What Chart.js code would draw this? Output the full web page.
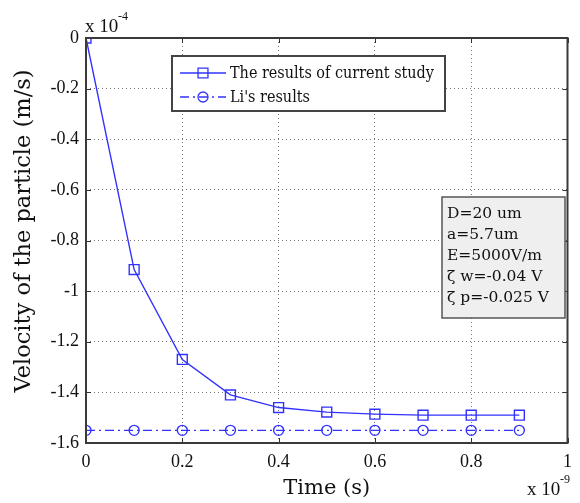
<!DOCTYPE html>
<html>
<head>
<meta charset="utf-8">
<script src="https://cdn.jsdelivr.net/npm/chart.js@4.4.0/dist/chart.umd.min.js"></script>
<style>
  html, body { margin: 0; padding: 0; background: #fff; }
  #wrap { width: 580px; height: 503px; }
</style>
</head>
<body>
<div id="wrap"><canvas id="myChart" width="580" height="503"></canvas></div>
<script>
// Daten (Zeit in 1e-9 s, Geschwindigkeit in 1e-4 m/s)
const times = [0, 0.1, 0.2, 0.3, 0.4, 0.5, 0.6, 0.7, 0.8, 0.9];
const currentStudy = [0, -0.915, -1.27, -1.41, -1.46, -1.478, -1.486, -1.49, -1.49, -1.49];
const liResults = [-1.55, -1.55, -1.55, -1.55, -1.55, -1.55, -1.55, -1.55, -1.55, -1.55];
const seriesNames = ['The results of current study', "Li's results"];
const infoLines = ['D=20 um', 'a=5.7um', 'E=5000V/m', '\u03B6 w=-0.04 V', '\u03B6 p=-0.025 V'];
const xTitle = 'Time (s)';
const yTitle = 'Velocity of the particle (m/s)';

const blue = 'rgb(50, 50, 255)';
const serif = '"Liberation Serif", "Times New Roman", serif';
const slab = '"DejaVu Serif", serif';
const slabCond = '"DejaVu Serif Condensed", "DejaVu Serif", serif';

function toPoints(ys) {
  return times.map((t, i) => ({ x: t, y: ys[i] }));
}

// Plugin: Rahmen, Ticks nach innen, Titel, Legende, Infobox
const matlabPlugin = {
  id: 'matlab',
  afterDraw(chart) {
    const ctx = chart.ctx;
    const a = chart.chartArea;
    const xs = chart.scales.x;
    const ys = chart.scales.y;
    ctx.save();

    // Ticks innen (alle vier Seiten)
    ctx.strokeStyle = '#333';
    ctx.lineWidth = 1;
    ctx.beginPath();
    xs.ticks.forEach(t => {
      const px = Math.round(xs.getPixelForValue(t.value)) + 0.5;
      ctx.moveTo(px, a.bottom); ctx.lineTo(px, a.bottom - 5);
      ctx.moveTo(px, a.top); ctx.lineTo(px, a.top + 5);
    });
    ys.ticks.forEach(t => {
      const py = Math.round(ys.getPixelForValue(t.value)) + 0.5;
      ctx.moveTo(a.left, py); ctx.lineTo(a.left + 5, py);
      ctx.moveTo(a.right, py); ctx.lineTo(a.right - 5, py);
    });
    ctx.stroke();

    // Rahmen
    ctx.strokeStyle = '#3a3a3a';
    ctx.lineWidth = 2;
    ctx.strokeRect(a.left, a.top, a.right - a.left, a.bottom - a.top);

    // Achsentitel
    ctx.fillStyle = '#111';
    ctx.font = '21px ' + slab;
    ctx.textAlign = 'center';
    ctx.textBaseline = 'middle';
    ctx.fillText(xTitle, (a.left + a.right) / 2, 489);
    ctx.save();
    ctx.translate(24, 231);
    ctx.rotate(-Math.PI / 2);
    ctx.font = '22.5px ' + slab;
    ctx.fillText(yTitle, 0, 0);
    ctx.restore();

    // Exponenten
    ctx.textAlign = 'left';
    ctx.textBaseline = 'alphabetic';
    ctx.font = '19px ' + serif;
    ctx.fillText('x 10', 85, 32);
    ctx.font = '12px ' + serif;
    ctx.fillText('-4', 118, 20);
    ctx.font = '19px ' + serif;
    ctx.fillText('x 10', 527, 495);
    ctx.font = '12px ' + serif;
    ctx.fillText('-9', 560, 483);

    // Legende
    ctx.fillStyle = '#fff';
    ctx.fillRect(172, 56, 273, 55);
    ctx.strokeStyle = '#444';
    ctx.lineWidth = 2;
    ctx.strokeRect(172, 56, 273, 55);
    const rows = [73, 97];
    chart.data.datasets.forEach((ds, i) => {
      const y = rows[i];
      ctx.strokeStyle = ds.borderColor;
      ctx.lineWidth = 1.3;
      ctx.setLineDash(ds.borderDash || []);
      ctx.beginPath();
      ctx.moveTo(180, y); ctx.lineTo(226, y);
      ctx.stroke();
      ctx.setLineDash([]);
      ctx.fillStyle = 'rgba(0,0,0,0)';
      Chart.helpers.drawPoint(ctx, {
        pointStyle: ds.pointStyle, radius: ds.pointRadius, borderWidth: 1.3
      }, 203, y);
      ctx.fillStyle = '#111';
      ctx.font = '16px ' + slabCond;
      ctx.textBaseline = 'middle';
      ctx.fillText(ds.label, 230, y + 1);
    });

    // Infobox
    ctx.fillStyle = '#efefef';
    ctx.fillRect(442, 197, 123, 121);
    ctx.strokeStyle = '#555';
    ctx.lineWidth = 1.5;
    ctx.strokeRect(442, 197, 123, 121);
    ctx.fillStyle = '#111';
    ctx.font = '15.5px ' + slab;
    ctx.textBaseline = 'middle';
    infoLines.forEach((s, i) => {
      ctx.fillText(s, 447, 214 + i * 21);
    });

    ctx.restore();
  }
};

const canvas = document.getElementById('myChart');
const myChart = new Chart(canvas, {
  type: 'line',
  data: {
    datasets: [{
      label: seriesNames[0],
      data: toPoints(currentStudy),
      borderColor: blue,
      backgroundColor: 'transparent',
      borderWidth: 1.4,
      pointStyle: 'rect',
      pointRadius: 7,
      pointBorderWidth: 1.4,
      pointBackgroundColor: 'transparent',
      pointBorderColor: blue,
      tension: 0
    }, {
      label: seriesNames[1],
      data: toPoints(liResults),
      borderColor: blue,
      backgroundColor: 'transparent',
      borderWidth: 1.4,
      borderDash: [9, 4, 2, 4],
      pointStyle: 'circle',
      pointRadius: 5,
      pointBorderWidth: 1.4,
      pointBackgroundColor: 'transparent',
      pointBorderColor: blue
    }]
  },
  options: {
    responsive: false,
    animation: false,
    layout: { padding: { top: 38, right: 8, left: 0, bottom: 0 } },
    plugins: { legend: { display: false }, tooltip: { enabled: false } },
    scales: {
      x: {
        type: 'linear',
        min: 0, max: 1,
        ticks: {
          stepSize: 0.2,
          color: '#111',
          font: { family: serif, size: 18 },
          padding: 8,
          maxRotation: 0,
          callback: v => String(Number(v.toFixed(1)))
        },
        grid: { color: '#777', lineWidth: 1, drawTicks: false },
        border: { display: false, dash: [1, 3] },
        afterFit: s => { s.height = 60; }
      },
      y: {
        min: -1.6, max: 0,
        ticks: {
          stepSize: 0.2,
          color: '#111',
          font: { family: serif, size: 18 },
          padding: 7,
          callback: v => String(Number(v.toFixed(1)))
        },
        grid: { color: '#777', lineWidth: 1, drawTicks: false },
        border: { display: false, dash: [1, 3] },
        afterFit: s => { s.width = 86; }
      }
    }
  },
  plugins: [matlabPlugin]
});
</script>
</body>
</html>
